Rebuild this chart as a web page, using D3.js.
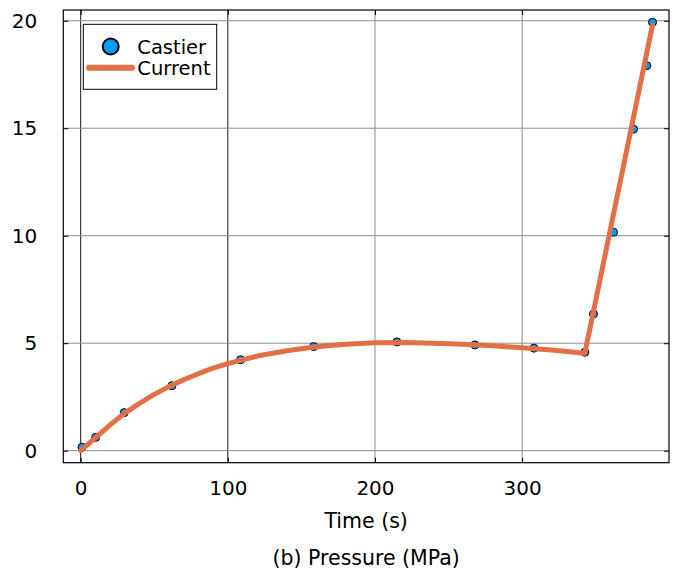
<!DOCTYPE html>
<html>
<head>
<meta charset="utf-8">
<script src="https://cdn.jsdelivr.net/npm/d3@7"></script>
<style>
  body { margin: 0; background: white; }
  svg { font-family: "DejaVu Sans", sans-serif; }
</style>
</head>
<body>
<svg width="678" height="573"></svg>
<script>
// data
var castierTime = [0.9, 10.2, 29.6, 62, 108.7, 158.3, 214.9, 267.9, 308, 342.6, 348.5, 362.1, 375.7, 384.7, 388.6];
var castierPressure = [0.16, 0.62, 1.77, 3.02, 4.23, 4.84, 5.06, 4.92, 4.77, 4.58, 6.36, 10.16, 14.96, 17.91, 19.93];

var currentTime = [0, 10, 20, 30, 40, 50, 60, 70, 80, 90, 100, 120, 140, 160, 180, 200, 220, 240, 260, 280, 300, 320, 342.6, 388.6];
var currentPressure = [0, 0.6, 1.2, 1.75, 2.2, 2.62, 2.98, 3.3, 3.58, 3.84, 4.05, 4.4, 4.65, 4.83, 4.95, 5.02, 5.03, 5.0, 4.95, 4.88, 4.79, 4.68, 4.53, 19.8];

var xTicks = [0, 100, 200, 300];
var yTicks = [0, 5, 10, 15, 20];
var seriesNames = ["Castier", "Current"];

var svg = d3.select("svg");

// plot frame (names avoid window.top)
var pLeft = 63.3, pRight = 669, pTop = 10, pBottom = 462.7;

var x = d3.scaleLinear().domain([-11.8, 399.8]).range([pLeft, pRight]);
var y = d3.scaleLinear().domain([-0.56, 20.5]).range([pBottom, pTop]);

// grid
svg.append("g").selectAll("line")
    .data(xTicks).enter().append("line")
    .attr("x1", d => x(d)).attr("x2", d => x(d))
    .attr("y1", pTop).attr("y2", pBottom)
    .attr("stroke", d => d <= 100 ? "#1a1a1a" : "#8c8c8c")
    .attr("stroke-width", 1);

svg.append("g").selectAll("line")
    .data(yTicks).enter().append("line")
    .attr("x1", pLeft).attr("x2", pRight)
    .attr("y1", d => y(d)).attr("y2", d => y(d))
    .attr("stroke", "#8c8c8c")
    .attr("stroke-width", 1);

// frame
svg.append("rect")
    .attr("x", pLeft).attr("y", pTop)
    .attr("width", pRight - pLeft).attr("height", pBottom - pTop)
    .attr("fill", "none")
    .attr("stroke", "black")
    .attr("stroke-width", 1.2);

// axes (ticks inward, on all four sides)
var tickLen = 5;
svg.append("g")
    .attr("transform", "translate(0," + pBottom + ")")
    .call(d3.axisBottom(x).tickValues(xTicks).tickSizeInner(-tickLen).tickSizeOuter(0).tickPadding(18))
    .call(g => g.select(".domain").remove())
    .call(g => g.selectAll("text").attr("font-size", 20).attr("font-family", "DejaVu Sans").attr("fill", "black"));

svg.append("g")
    .attr("transform", "translate(0," + pTop + ")")
    .call(d3.axisTop(x).tickValues(xTicks).tickSizeInner(-tickLen).tickSizeOuter(0).tickFormat(""))
    .call(g => g.select(".domain").remove());

svg.append("g")
    .attr("transform", "translate(" + pLeft + ",0)")
    .call(d3.axisLeft(y).tickValues(yTicks).tickSizeInner(-tickLen).tickSizeOuter(0).tickPadding(26))
    .call(g => g.select(".domain").remove())
    .call(g => g.selectAll("text").attr("font-size", 20).attr("font-family", "DejaVu Sans").attr("fill", "black"));

svg.append("g")
    .attr("transform", "translate(" + pRight + ",0)")
    .call(d3.axisRight(y).tickValues(yTicks).tickSizeInner(-tickLen).tickSizeOuter(0).tickFormat(""))
    .call(g => g.select(".domain").remove());

// castier points (drawn under the line)
svg.append("g").selectAll("circle")
    .data(castierPressure).enter().append("circle")
    .attr("cx", (d, i) => x(castierTime[i]))
    .attr("cy", d => y(d))
    .attr("r", 4)
    .attr("fill", "#009afa")
    .attr("stroke", "black")
    .attr("stroke-width", 1);

// current line
var line = d3.line()
    .x((d, i) => x(currentTime[i]))
    .y(d => y(d));

svg.append("path")
    .datum(currentPressure)
    .attr("d", line)
    .attr("fill", "none")
    .attr("stroke", "#e26f46")
    .attr("stroke-width", 5)
    .attr("stroke-linejoin", "round")
    .attr("stroke-linecap", "round");

// labels
svg.append("text")
    .attr("x", (pLeft + pRight) / 2).attr("y", 527.7)
    .attr("text-anchor", "middle")
    .attr("font-size", 20.5)
    .text("Time (s)");

svg.append("text")
    .attr("x", (pLeft + pRight) / 2).attr("y", 565.3)
    .attr("text-anchor", "middle")
    .attr("font-size", 20.5)
    .text("(b) Pressure (MPa)");

// legend
var legend = svg.append("g");
legend.append("rect")
    .attr("x", 83.3).attr("y", 24.3)
    .attr("width", 133.4).attr("height", 65)
    .attr("fill", "white")
    .attr("stroke", "black")
    .attr("stroke-width", 1);

legend.append("circle")
    .attr("cx", 110.7).attr("cy", 46.5)
    .attr("r", 8)
    .attr("fill", "#009afa")
    .attr("stroke", "black")
    .attr("stroke-width", 2);

legend.append("line")
    .attr("x1", 89).attr("x2", 132)
    .attr("y1", 67.7).attr("y2", 67.7)
    .attr("stroke", "#e26f46")
    .attr("stroke-width", 6)
    .attr("stroke-linecap", "round");

legend.selectAll("text.leg")
    .data(seriesNames).enter().append("text")
    .attr("class", "leg")
    .attr("x", 137.3)
    .attr("y", (d, i) => 54 + i * 21.3)
    .attr("font-size", 19.5)
    .text(d => d);
</script>
</body>
</html>
